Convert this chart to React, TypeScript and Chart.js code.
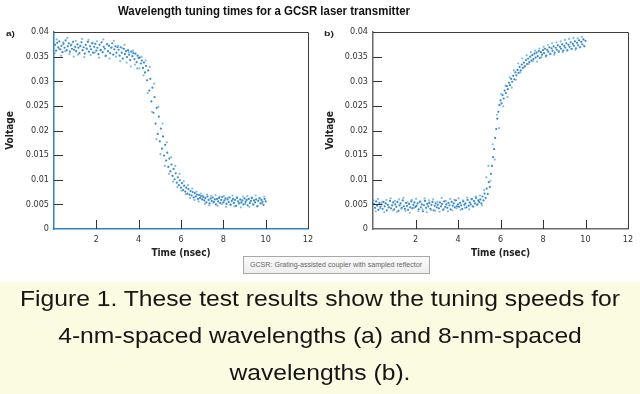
import React, { useEffect, useLayoutEffect, useRef } from "react";
import { Chart, registerables } from "chart.js";
Chart.register(...registerables);

// ---- data ----
const chartTitle = "Wavelength tuning times for a GCSR laser transmitter";
const panelLabels = ["a)", "b)"];
const xAxisTitle = "Time (nsec)";
const yAxisTitle = "Voltage";
const tooltipText = "GCSR: Grating-assisted coupler with sampled reflector";
const captionLines = [
  "Figure 1. These test results show the tuning speeds for",
  "4-nm-spaced wavelengths (a) and 8-nm-spaced",
  "wavelengths (b).",
];

// first sweep sample times (ns)
const sampleTimes = [
  0.05, 0.1, 0.15, 0.2, 0.25, 0.3, 0.35, 0.4, 0.45, 0.5, 0.55, 0.6, 0.65, 0.7, 0.75, 0.8, 0.85, 0.9, 0.95, 1.0,
  1.05, 1.1, 1.15, 1.2, 1.25, 1.3, 1.35, 1.4, 1.45, 1.5, 1.55, 1.6, 1.65, 1.7, 1.75, 1.8, 1.85, 1.9, 1.95, 2.0,
  2.05, 2.1, 2.15, 2.2, 2.25, 2.3, 2.35, 2.4, 2.45, 2.5, 2.55, 2.6, 2.65, 2.7, 2.75, 2.8, 2.85, 2.9, 2.95, 3.0,
  3.05, 3.1, 3.15, 3.2, 3.25, 3.3, 3.35, 3.4, 3.45, 3.5, 3.55, 3.6, 3.65, 3.7, 3.75, 3.8, 3.85, 3.9, 3.95, 4.0,
  4.05, 4.1, 4.15, 4.2, 4.25, 4.3, 4.35, 4.4, 4.45, 4.5, 4.55, 4.6, 4.65, 4.7, 4.75, 4.8, 4.85, 4.9, 4.95, 5.0,
  5.05, 5.1, 5.15, 5.2, 5.25, 5.3, 5.35, 5.4, 5.45, 5.5, 5.55, 5.6, 5.65, 5.7, 5.75, 5.8, 5.85, 5.9, 5.95, 6.0,
  6.05, 6.1, 6.15, 6.2, 6.25, 6.3, 6.35, 6.4, 6.45, 6.5, 6.55, 6.6, 6.65, 6.7, 6.75, 6.8, 6.85, 6.9, 6.95, 7.0,
  7.05, 7.1, 7.15, 7.2, 7.25, 7.3, 7.35, 7.4, 7.45, 7.5, 7.55, 7.6, 7.65, 7.7, 7.75, 7.8, 7.85, 7.9, 7.95, 8.0,
  8.05, 8.1, 8.15, 8.2, 8.25, 8.3, 8.35, 8.4, 8.45, 8.5, 8.55, 8.6, 8.65, 8.7, 8.75, 8.8, 8.85, 8.9, 8.95, 9.0,
  9.05, 9.1, 9.15, 9.2, 9.25, 9.3, 9.35, 9.4, 9.45, 9.5, 9.55, 9.6, 9.65, 9.7, 9.75, 9.8, 9.85, 9.9, 9.95, 10.0,
];

// second sweep sample times (ns)
const sampleTimes2 = [
  0.03, 0.13, 0.23, 0.33, 0.43, 0.53, 0.63, 0.73, 0.83, 0.93,
  1.03, 1.13, 1.23, 1.33, 1.43, 1.53, 1.63, 1.73, 1.83, 1.93,
  2.03, 2.13, 2.23, 2.33, 2.43, 2.53, 2.63, 2.73, 2.83, 2.93,
  3.03, 3.13, 3.23, 3.33, 3.43, 3.53, 3.63, 3.73, 3.83, 3.93,
  4.03, 4.13, 4.23, 4.33, 4.43, 4.53, 4.63, 4.73, 4.83, 4.93,
  5.03, 5.13, 5.23, 5.33, 5.43, 5.53, 5.63, 5.73, 5.83, 5.93,
  6.03, 6.13, 6.23, 6.33, 6.43, 6.53, 6.63, 6.73, 6.83, 6.93,
  7.03, 7.13, 7.23, 7.33, 7.43, 7.53, 7.63, 7.73, 7.83, 7.93,
  8.03, 8.13, 8.23, 8.33, 8.43, 8.53, 8.63, 8.73, 8.83, 8.93,
  9.03, 9.13, 9.23, 9.33, 9.43, 9.53, 9.63, 9.73, 9.83, 9.93,
];

// (a) 4-nm-spaced wavelengths: falling edge
const voltageA = [
  0.0374, 0.0362, 0.0378, 0.0369, 0.0381, 0.0365, 0.0372, 0.0359, 0.0376, 0.0368, 0.0383, 0.0363, 0.0371, 0.0377, 0.036, 0.0373, 0.0366, 0.038, 0.0364, 0.037,
  0.0361, 0.0375, 0.0368, 0.0357, 0.0372, 0.0379, 0.0363, 0.0369, 0.0356, 0.0374, 0.0366, 0.038, 0.036, 0.0371, 0.0365, 0.0377, 0.0358, 0.037, 0.0376, 0.0362,
  0.0368, 0.0355, 0.0374, 0.0363, 0.0379, 0.0359, 0.037, 0.0366, 0.0352, 0.0375, 0.0361, 0.0372, 0.0357, 0.0368, 0.0377, 0.0354, 0.0365, 0.0371, 0.0358, 0.0369,
  0.0364, 0.0352, 0.0369, 0.0358, 0.0346, 0.0366, 0.0355, 0.0361, 0.0349, 0.0363, 0.0354, 0.0343, 0.036, 0.0351, 0.0357, 0.0345, 0.0356, 0.0339, 0.0352, 0.0347,
  0.0348, 0.0336, 0.0342, 0.0327, 0.0338, 0.0318, 0.0331, 0.0302, 0.0322, 0.0281, 0.0305, 0.0259, 0.0287, 0.0236, 0.0268, 0.0214, 0.0246, 0.0193, 0.0228, 0.0178,
  0.0204, 0.0163, 0.0188, 0.0149, 0.0171, 0.0139, 0.0155, 0.0126, 0.0143, 0.0117, 0.0131, 0.0108, 0.0122, 0.0101, 0.0113, 0.0094, 0.0105, 0.0089, 0.0099, 0.0084,
  0.0093, 0.0079, 0.0088, 0.0076, 0.0084, 0.0072, 0.0081, 0.007, 0.0077, 0.0068, 0.0075, 0.0064, 0.0073, 0.0066, 0.007, 0.0061, 0.0069, 0.0063, 0.0067, 0.006,
  0.0065, 0.0058, 0.0063, 0.0054, 0.0066, 0.0059, 0.0052, 0.0062, 0.0057, 0.0064, 0.0055, 0.006, 0.005, 0.0061, 0.0056, 0.0063, 0.0053, 0.0059, 0.0065, 0.0054,
  0.0058, 0.0062, 0.0051, 0.006, 0.0055, 0.0064, 0.0049, 0.0057, 0.0061, 0.0053, 0.0059, 0.0047, 0.0063, 0.0056, 0.0052, 0.006, 0.0054, 0.0058, 0.005, 0.0062,
  0.0055, 0.0059, 0.0048, 0.0061, 0.0053, 0.0057, 0.0063, 0.005, 0.0058, 0.0054, 0.006, 0.0046, 0.0057, 0.0062, 0.0052, 0.0059, 0.0055, 0.0049, 0.0061, 0.0056,
];
const voltageA2 = [
  0.0357, 0.0385, 0.0366, 0.0352, 0.0379, 0.0361, 0.0388, 0.0355, 0.0375, 0.035,
  0.0382, 0.0354, 0.0371, 0.0386, 0.0349, 0.0367, 0.0384, 0.0353, 0.0378, 0.0358,
  0.0381, 0.0348, 0.0364, 0.0385, 0.0351, 0.0376, 0.0346, 0.0369, 0.0382, 0.035,
  0.0372, 0.0341, 0.0367, 0.0374, 0.0338, 0.0359, 0.033, 0.0362, 0.0334, 0.0326,
  0.0326, 0.035, 0.0312, 0.0342, 0.0276, 0.0329, 0.0238, 0.0295, 0.0182, 0.0248,
  0.0152, 0.0214, 0.0128, 0.0176, 0.0112, 0.0146, 0.0096, 0.0128, 0.0085, 0.0112,
  0.0078, 0.0097, 0.0071, 0.0089, 0.0063, 0.0082, 0.0059, 0.0076, 0.0056, 0.0072,
  0.0068, 0.0051, 0.007, 0.0048, 0.0067, 0.0053, 0.0069, 0.0047, 0.0066, 0.0051,
  0.0067, 0.0045, 0.0064, 0.005, 0.0068, 0.0046, 0.0065, 0.0052, 0.0044, 0.0066,
  0.0051, 0.0067, 0.0045, 0.0064, 0.0049, 0.0068, 0.0047, 0.0063, 0.0052, 0.0066,
];

// (b) 8-nm-spaced wavelengths: rising edge
const voltageB = [
  0.0051, 0.0043, 0.0056, 0.0047, 0.0039, 0.0053, 0.0045, 0.005, 0.0041, 0.0055, 0.0046, 0.0052, 0.0038, 0.0049, 0.0044, 0.0057, 0.0042, 0.0048, 0.0054, 0.004,
  0.005, 0.0045, 0.0055, 0.0037, 0.0048, 0.0052, 0.0043, 0.0058, 0.0046, 0.0041, 0.0053, 0.0047, 0.0039, 0.0051, 0.0044, 0.0056, 0.0042, 0.0049, 0.0054, 0.0045,
  0.0047, 0.0052, 0.004, 0.0055, 0.0044, 0.005, 0.0036, 0.0048, 0.0057, 0.0043, 0.0051, 0.0046, 0.0053, 0.0041, 0.0049, 0.0055, 0.0038, 0.0047, 0.0052, 0.0044,
  0.0049, 0.0042, 0.0054, 0.0046, 0.0051, 0.0039, 0.0056, 0.0045, 0.005, 0.0043, 0.0053, 0.0048, 0.004, 0.0055, 0.0047, 0.0052, 0.0044, 0.0058, 0.0046, 0.005,
  0.0045, 0.0053, 0.0048, 0.0041, 0.0056, 0.0049, 0.0052, 0.0044, 0.0059, 0.0047, 0.0054, 0.005, 0.0061, 0.0046, 0.0057, 0.0052, 0.0063, 0.0049, 0.0058, 0.0055,
  0.006, 0.0052, 0.0066, 0.0058, 0.0072, 0.0063, 0.0082, 0.0071, 0.0095, 0.0085, 0.0112, 0.0128, 0.0146, 0.0162, 0.0185, 0.0203, 0.0224, 0.0238, 0.0252, 0.0261,
  0.0255, 0.0272, 0.0265, 0.0281, 0.0276, 0.029, 0.0284, 0.0297, 0.0292, 0.0305, 0.0299, 0.0311, 0.0304, 0.0318, 0.0312, 0.0323, 0.0317, 0.0329, 0.0322, 0.0334,
  0.0327, 0.0338, 0.0331, 0.0343, 0.0335, 0.0346, 0.0339, 0.035, 0.0342, 0.0353, 0.0345, 0.0356, 0.0348, 0.0358, 0.0351, 0.0361, 0.0347, 0.0359, 0.0354, 0.0363,
  0.0357, 0.0366, 0.0352, 0.0364, 0.036, 0.0369, 0.0355, 0.0367, 0.0362, 0.0371, 0.0358, 0.0368, 0.0364, 0.0373, 0.036, 0.037, 0.0366, 0.0375, 0.0362, 0.0372,
  0.0368, 0.0377, 0.0363, 0.0374, 0.037, 0.0379, 0.0366, 0.0376, 0.0372, 0.0381, 0.0367, 0.0378, 0.0373, 0.0383, 0.0369, 0.038, 0.0375, 0.0385, 0.0371, 0.0382,
];
const voltageB2 = [
  0.0058, 0.0036, 0.0061, 0.0042, 0.0055, 0.0034, 0.0059, 0.0044, 0.0062, 0.0038,
  0.0057, 0.0035, 0.006, 0.0041, 0.0063, 0.0037, 0.0054, 0.0033, 0.0059, 0.0043,
  0.0061, 0.0036, 0.0056, 0.004, 0.0062, 0.0034, 0.0058, 0.0039, 0.006, 0.0037,
  0.0055, 0.0035, 0.0063, 0.0041, 0.0057, 0.0036, 0.0061, 0.0038, 0.0059, 0.0042,
  0.0062, 0.0039, 0.0058, 0.0043, 0.0064, 0.004, 0.006, 0.0045, 0.0066, 0.0051,
  0.0068, 0.0048, 0.0079, 0.0105, 0.0128, 0.0098, 0.0172, 0.0141, 0.0232, 0.0205,
  0.0274, 0.0249, 0.0291, 0.0268, 0.0308, 0.0287, 0.0322, 0.0303, 0.0336, 0.0318,
  0.0346, 0.0329, 0.0353, 0.0335, 0.0359, 0.0341, 0.0362, 0.034, 0.0366, 0.0349,
  0.037, 0.035, 0.0374, 0.0356, 0.0377, 0.0354, 0.0379, 0.0361, 0.0381, 0.0359,
  0.0384, 0.0362, 0.0386, 0.0365, 0.0388, 0.0364, 0.0387, 0.0369, 0.039, 0.0372,
];

const xRange = [0, 12];
const xStep = 2;
const yRange = [0, 0.04];
const yStep = 0.005;

// ---- styling ----
const AXIS_FONT = "'Liberation Sans Narrow', 'DejaVu Sans Condensed', 'Liberation Sans', Arial, sans-serif";
const POINT_DARK = "rgba(20,115,195,0.85)";
const POINT_LIGHT = "rgba(70,160,225,0.7)";

const frameTicksPlugin = {
  id: "frameTicks",
  afterDraw(chart: any, _args: any, opts: any) {
    const { ctx, chartArea: a, scales } = chart;
    ctx.save();
    ctx.lineWidth = 1;
    ctx.strokeStyle = opts.frameColor;
    ctx.beginPath();
    ctx.moveTo(a.left, Math.round(a.top) + 0.5);
    ctx.lineTo(Math.round(a.right) + 0.5, Math.round(a.top) + 0.5);
    ctx.lineTo(Math.round(a.right) + 0.5, a.bottom);
    ctx.stroke();
    ctx.strokeStyle = opts.tickColor;
    ctx.beginPath();
    scales.x.ticks.forEach((t: any) => {
      if (t.value <= xRange[0] || t.value >= xRange[1]) return;
      const px = Math.round(scales.x.getPixelForValue(t.value)) + 0.5;
      ctx.moveTo(px, a.bottom);
      ctx.lineTo(px, a.bottom - 9);
    });
    scales.y.ticks.forEach((t: any) => {
      if (t.value <= yRange[0] || t.value >= yRange[1]) return;
      const py = Math.round(scales.y.getPixelForValue(t.value)) + 0.5;
      ctx.moveTo(a.left, py);
      ctx.lineTo(a.left + 9, py);
    });
    ctx.stroke();
    ctx.restore();
  },
};

function ScatterPanel(props: {
  left: number;
  times: number[];
  volts: number[];
  times2: number[];
  volts2: number[];
  axisColor: string;
  yWidth: number;
}) {
  const ref = useRef<HTMLCanvasElement>(null);
  useEffect(() => {
    const chart = new Chart(ref.current as HTMLCanvasElement, {
      type: "scatter",
      data: {
        datasets: [
          {
            data: props.times2.map((t, i) => ({ x: t, y: props.volts2[i] })),
            pointRadius: 1.1,
            pointBackgroundColor: POINT_LIGHT,
            pointBorderWidth: 0,
            showLine: false,
          },
          {
            data: props.times.map((t, i) => ({ x: t, y: props.volts[i] })),
            pointRadius: 1.1,
            pointBackgroundColor: POINT_DARK,
            pointBorderWidth: 0,
            showLine: false,
          },
        ],
      },
      options: {
        animation: false,
        responsive: false,
        devicePixelRatio: 1,
        events: [],
        layout: { padding: { left: 0, top: 32, right: 12, bottom: 0 } },
        plugins: {
          legend: { display: false },
          tooltip: { enabled: false },
          frameTicks: { frameColor: "#3c3c3c", tickColor: "#333" },
        } as any,
        scales: {
          x: {
            type: "linear",
            min: xRange[0],
            max: xRange[1],
            grid: { display: false, drawTicks: false },
            border: { color: props.axisColor, width: 1.5 },
            ticks: {
              stepSize: xStep,
              padding: 5,
              color: "#333",
              maxRotation: 0,
              autoSkip: false,
              font: { family: AXIS_FONT, size: 9 },
              callback: (v: any) => (v === 0 ? "" : String(v)),
            },
            title: {
              display: true,
              text: xAxisTitle,
              color: "#222",
              font: { family: AXIS_FONT, size: 10, weight: "bold" },
              padding: { top: 0, bottom: 11 },
            },
            afterFit: (s: any) => {
              s.height = 41;
            },
          },
          y: {
            type: "linear",
            min: yRange[0],
            max: yRange[1],
            grid: { display: false, drawTicks: false },
            border: { color: props.axisColor, width: 1.5 },
            ticks: {
              stepSize: yStep,
              padding: 5,
              color: "#333",
              autoSkip: false,
              font: { family: AXIS_FONT, size: 9 },
              callback: (v: any) => (v === 0 ? "0" : String(Number(Number(v).toFixed(3)))),
            },
            title: {
              display: true,
              text: yAxisTitle,
              color: "#222",
              font: { family: AXIS_FONT, size: 10, weight: "bold" },
              padding: { top: 4, bottom: 0 },
            },
            afterFit: (s: any) => {
              s.width = props.yWidth;
            },
          },
        },
      } as any,
      plugins: [frameTicksPlugin],
    });
    return () => chart.destroy();
  }, []);
  return (
    <canvas
      ref={ref}
      width={320}
      height={270}
      style={{ position: "absolute", left: props.left, top: 0, width: 320, height: 270 }}
    />
  );
}

function FitText(props: { text: string; left: number; top: number; width: number; font: string; color: string }) {
  const ref = useRef<HTMLSpanElement>(null);
  useLayoutEffect(() => {
    const el = ref.current;
    if (!el) return;
    el.style.transform = "none";
    const w = el.getBoundingClientRect().width;
    if (w > 0) el.style.transform = `scaleX(${props.width / w})`;
  }, [props.text, props.width]);
  return (
    <span
      ref={ref}
      style={{
        position: "absolute",
        left: props.left,
        top: props.top,
        whiteSpace: "nowrap",
        font: props.font,
        color: props.color,
        lineHeight: 1,
        transformOrigin: "0 0",
      }}
    >
      {props.text}
    </span>
  );
}

function Caption() {
  const wrapRef = useRef<HTMLDivElement>(null);
  const firstRef = useRef<HTMLSpanElement>(null);
  const tops = [288, 325, 362];
  const targetFirstWidth = 600;
  useLayoutEffect(() => {
    const wrap = wrapRef.current;
    const first = firstRef.current;
    if (!wrap || !first) return;
    wrap.style.transform = "none";
    const w = first.getBoundingClientRect().width;
    if (w > 0) wrap.style.transform = `scaleX(${targetFirstWidth / w})`;
  }, []);
  return (
    <div
      ref={wrapRef}
      style={{ position: "absolute", left: 0, top: 0, width: 640, height: 394, transformOrigin: "320px 0" }}
    >
      {captionLines.map((line, i) => (
        <div
          key={i}
          style={{
            position: "absolute",
            left: 0,
            top: tops[i],
            width: 640,
            textAlign: "center",
            font: "22px 'Liberation Sans', Arial, sans-serif",
            lineHeight: 1,
            color: "#151515",
            whiteSpace: "nowrap",
          }}
        >
          <span ref={i === 0 ? firstRef : undefined}>{line}</span>
        </div>
      ))}
    </div>
  );
}

export default function App() {
  return (
    <div
      style={{
        position: "absolute",
        left: 0,
        top: 0,
        width: 640,
        height: 394,
        background: "#ffffff",
        overflow: "hidden",
        fontFamily: "'Liberation Sans', Arial, sans-serif",
      }}
    >
      <ScatterPanel
        left={0}
        times={sampleTimes}
        volts={voltageA}
        times2={sampleTimes2}
        volts2={voltageA2}
        axisColor="#2f82c4"
        yWidth={54}
      />
      <ScatterPanel
        left={320}
        times={sampleTimes}
        volts={voltageB}
        times2={sampleTimes2}
        volts2={voltageB2}
        axisColor="#6a6a6a"
        yWidth={53}
      />
      <FitText text={chartTitle} left={118} top={5} width={292} font="bold 12px 'Liberation Sans', Arial, sans-serif" color="#111" />
      <FitText text={panelLabels[0]} left={6} top={30} width={9} font="bold 8px 'Liberation Sans', Arial, sans-serif" color="#222" />
      <FitText text={panelLabels[1]} left={324} top={30} width={10} font="bold 8px 'Liberation Sans', Arial, sans-serif" color="#222" />
      <div
        style={{
          position: "absolute",
          left: 243,
          top: 256,
          width: 185,
          height: 16,
          background: "linear-gradient(#fafafa, #eeeeee)",
          border: "1px solid #a8a8a8",
        }}
      />
      <FitText text={tooltipText} left={250} top={261} width={172} font="7px 'Liberation Sans', Arial, sans-serif" color="#666" />
      <div style={{ position: "absolute", left: 0, top: 282, width: 640, height: 112, background: "#fbfbe2" }} />
      <Caption />
    </div>
  );
}
